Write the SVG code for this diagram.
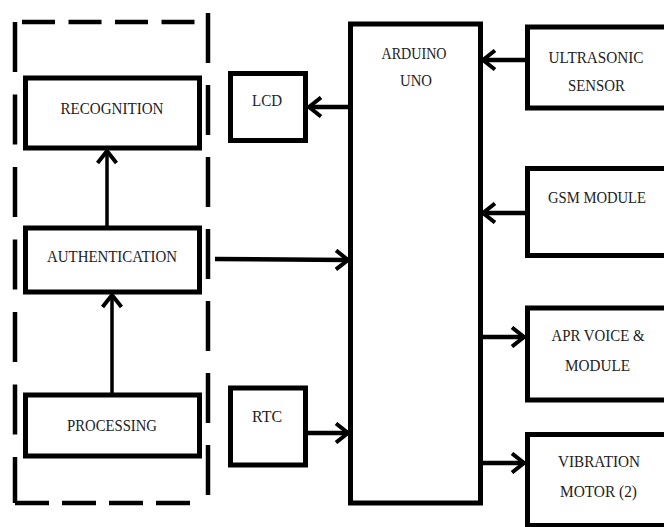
<svg xmlns="http://www.w3.org/2000/svg" width="664" height="527" viewBox="0 0 664 527">
<style>
.box{fill:#fff;stroke:#000;stroke-width:5}
.dash{stroke:#000;stroke-width:4.5;fill:none}
.t{font-family:"Liberation Serif","Times New Roman",serif;font-size:17px;fill:#222;text-anchor:middle}
.conn{stroke:#000;stroke-width:4.5;fill:none}
.vconn{stroke:#000;stroke-width:3.5;fill:none}
</style>
<defs>
<marker id="arr" viewBox="0 0 16 22" refX="14" refY="11" markerWidth="16" markerHeight="22" markerUnits="userSpaceOnUse" orient="auto">
<path d="M2,1.5 L14,11 L2,20.5" fill="none" stroke="#000" stroke-width="4"/>
</marker>
</defs>
<rect width="664" height="527" fill="#fff"/>
<g id="group-border">
<line class="dash" x1="22" y1="22" x2="200" y2="22" stroke-dasharray="33 13.5"/>
<line class="dash" x1="15" y1="22" x2="15" y2="503" stroke-dasharray="50 22.5"/>
<line class="dash" x1="15" y1="503" x2="190" y2="503" stroke-dasharray="34 13"/>
<line class="dash" x1="208" y1="13" x2="208" y2="497" stroke-dasharray="50 22"/>
</g>
<g id="recognition"><rect class="box" x="25.5" y="78" width="174" height="70"/><text class="t" x="112" y="114" textLength="103" lengthAdjust="spacingAndGlyphs">RECOGNITION</text></g>
<g id="authentication"><rect class="box" x="25.5" y="228" width="174" height="64"/><text class="t" x="112" y="262" textLength="130" lengthAdjust="spacingAndGlyphs">AUTHENTICATION</text></g>
<g id="processing"><rect class="box" x="25.5" y="395" width="174" height="61"/><text class="t" x="112" y="431" textLength="90" lengthAdjust="spacingAndGlyphs">PROCESSING</text></g>
<g id="lcd"><rect class="box" x="230.5" y="73.5" width="75" height="67"/><text class="t" x="267" y="106" textLength="30" lengthAdjust="spacingAndGlyphs">LCD</text></g>
<g id="rtc"><rect class="box" x="230.5" y="388" width="75" height="77"/><text class="t" x="267" y="422" textLength="30" lengthAdjust="spacingAndGlyphs">RTC</text></g>
<g id="arduino"><rect class="box" x="350.5" y="24" width="130" height="479" stroke-width="4.5"/><text class="t" x="414" y="59" textLength="65" lengthAdjust="spacingAndGlyphs">ARDUINO</text><text class="t" x="416" y="86" textLength="32" lengthAdjust="spacingAndGlyphs">UNO</text></g>
<g id="ultrasonic"><rect class="box" x="527.5" y="27" width="139" height="81"/><text class="t" x="596" y="63" textLength="95" lengthAdjust="spacingAndGlyphs">ULTRASONIC</text><text class="t" x="596.5" y="91" textLength="57" lengthAdjust="spacingAndGlyphs">SENSOR</text></g>
<g id="gsm"><rect class="box" x="527.5" y="168.5" width="139" height="87"/><text class="t" x="597" y="203" textLength="98" lengthAdjust="spacingAndGlyphs">GSM MODULE</text></g>
<g id="apr"><rect class="box" x="527.5" y="308" width="139" height="92"/><text class="t" x="598" y="341" textLength="93" lengthAdjust="spacingAndGlyphs">APR VOICE &amp;</text><text class="t" x="597.5" y="371" textLength="65" lengthAdjust="spacingAndGlyphs">MODULE</text></g>
<g id="vibration"><rect class="box" x="527.5" y="434.5" width="139" height="91"/><text class="t" x="599" y="467" textLength="82" lengthAdjust="spacingAndGlyphs">VIBRATION</text><text class="t" x="598.5" y="497" textLength="77" lengthAdjust="spacingAndGlyphs">MOTOR (2)</text></g>
<g id="connectors">
<line class="vconn" x1="107" y1="226" x2="107" y2="151" marker-end="url(#arr)"/>
<line class="vconn" x1="112" y1="393" x2="112" y2="295" marker-end="url(#arr)"/>
<line class="conn" x1="215" y1="259" x2="348" y2="260" marker-end="url(#arr)"/>
<line class="conn" x1="350" y1="107" x2="309" y2="107" marker-end="url(#arr)"/>
<line class="conn" x1="307" y1="433" x2="348" y2="433" marker-end="url(#arr)"/>
<line class="conn" x1="526" y1="60" x2="483" y2="60" marker-end="url(#arr)"/>
<line class="conn" x1="526" y1="213" x2="483" y2="213" marker-end="url(#arr)"/>
<line class="conn" x1="480" y1="337" x2="524" y2="337" marker-end="url(#arr)"/>
<line class="conn" x1="480" y1="463" x2="524" y2="463" marker-end="url(#arr)"/>
</g>
</svg>
